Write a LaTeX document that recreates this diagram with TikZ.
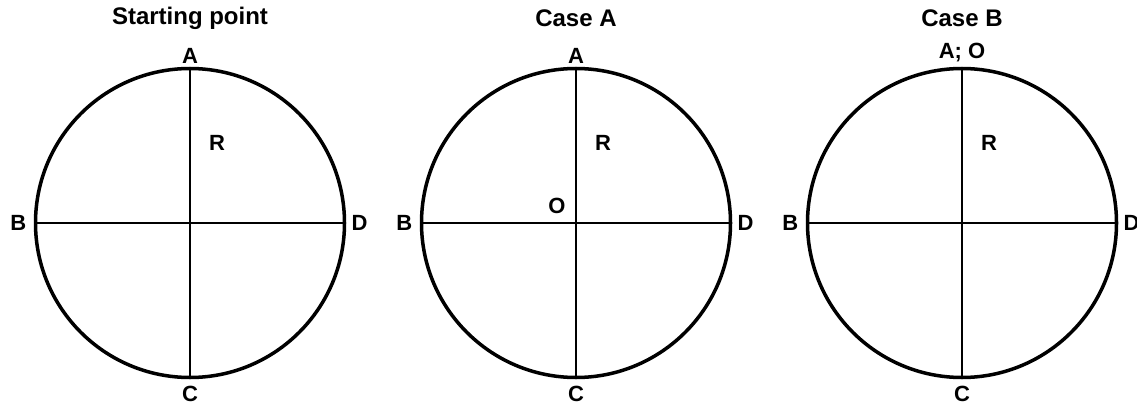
\documentclass[tikz,border=0pt]{standalone}
\usepackage{fontspec}
\setmainfont{Liberation Sans}
\usetikzlibrary{positioning}

\tikzset{
    disc/.style={circle, draw, line width=3.5pt, minimum size=309pt, inner sep=0pt, outer sep=0pt},
    axis/.style={line width=2.8pt},
    lbl/.style={font=\bfseries\fontsize{22}{22}\selectfont, inner sep=0pt, text depth=0pt},
    ttl/.style={font=\bfseries\fontsize{24}{24}\selectfont, inner sep=0pt},
}

\begin{document}
\begin{tikzpicture}[x=1pt, y=-1pt]
        \useasboundingbox (0,0) rectangle (1137,409);
        \clip (0,0) rectangle (1137,409);

        % starting point
        \node [ttl] (t1) at (190,18) {Starting point};
        \node [disc] (s1) at (190,223) {};
        \draw [axis] (s1.north) -- (s1.south);
        \draw [axis] (s1.west) -- (s1.east);
        \node [lbl, above=5pt of s1.north] (a1) {A};
        \node [lbl, left=9pt of s1.west] (b1) {B};
        \node [lbl, below=8pt of s1.south] (c1) {C};
        \node [lbl, right=7pt of s1.east] (d1) {D};
        \node [lbl] (r1) at (217,143) {R};

        % case A
        \node [ttl] (t2) at (576,18) {Case A};
        \node [disc] (s2) at (576,223) {};
        \draw [axis] (s2.north) -- (s2.south);
        \draw [axis] (s2.west) -- (s2.east);
        \node [lbl, above=5pt of s2.north] (a2) {A};
        \node [lbl, left=9pt of s2.west] (b2) {B};
        \node [lbl, below=8pt of s2.south] (c2) {C};
        \node [lbl, right=7pt of s2.east] (d2) {D};
        \node [lbl] (r2) at (603,143) {R};
        \node [lbl] (o2) at (557,206) {O};

        % case B
        \node [ttl] (t3) at (962,18) {Case B};
        \node [disc] (s3) at (962,223) {};
        \draw [axis] (s3.north) -- (s3.south);
        \draw [axis] (s3.west) -- (s3.east);
        \node [lbl, above=10pt of s3.north] (a3) {A; O};
        \node [lbl, left=9pt of s3.west] (b3) {B};
        \node [lbl, below=8pt of s3.south] (c3) {C};
        \node [lbl, right=7pt of s3.east] (d3) {D};
        \node [lbl] (r3) at (989,143) {R};

\end{tikzpicture}
\end{document}
